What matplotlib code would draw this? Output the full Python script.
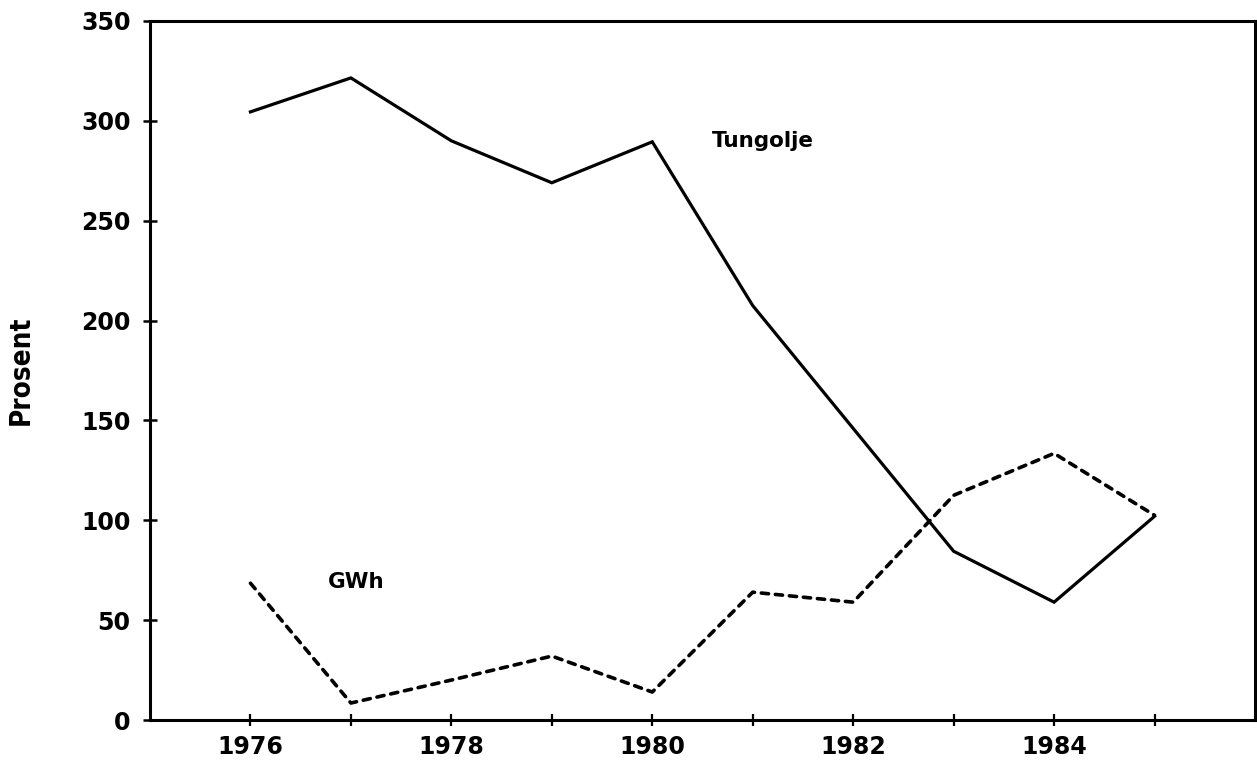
import matplotlib
matplotlib.use("Agg")
import matplotlib.pyplot as plt
from matplotlib.ticker import FixedLocator

years = [1976, 1977, 1978, 1979, 1980, 1981, 1982, 1983, 1984, 1985]
tungolje = [304.5, 321.5, 290, 269, 289.5, 207.5, 146, 84.5, 59, 102]
gwh = [68.5, 8.5, 20, 32, 14, 64, 59, 112.5, 133.5, 102.5]
xtick_labels = ["1976", "1978", "1980", "1982", "1984"]
yticks = [0, 50, 100, 150, 200, 250, 300, 350]

fig = plt.figure(figsize=(12.57, 7.61), dpi=100)
ax = fig.add_axes([150/1257, 1-720/761, 1105/1257, 699/761])

ax.plot(years, tungolje, color="black", lw=2.3, solid_joinstyle="miter")
ax.plot(years, gwh, color="black", lw=2.6, linestyle=(0, (2.0, 1.9)),
        dash_capstyle="round")

ax.set_xlim(1975, 1986)
ax.set_ylim(0, 350)

ax.xaxis.set_major_locator(FixedLocator([int(l) for l in xtick_labels]))
ax.set_xticklabels(xtick_labels)
ax.xaxis.set_minor_locator(FixedLocator([y for y in years if str(y) not in xtick_labels]))
ax.set_yticks(yticks)
ax.set_yticklabels([str(v) for v in yticks])

for s in ax.spines.values():
    s.set_linewidth(2.2)

ax.tick_params(axis="y", which="major", direction="inout", length=10, width=1.8, pad=9,
               labelsize=17)
ax.tick_params(axis="x", which="both", direction="inout", length=8, width=1.6, pad=7,
               labelsize=17)
for lab in ax.get_xticklabels() + ax.get_yticklabels():
    lab.set_fontweight("bold")

ax.set_ylabel("Prosent", fontsize=20, family=["DejaVu Sans"], fontstretch="condensed",
              fontweight="bold")
ax.yaxis.set_label_coords(-0.104, 0.5)

ax.text(1980.59, 290, "Tungolje", fontsize=15.5, fontweight="bold", va="center", ha="left")
ax.text(1976.77, 69, "GWh", fontsize=15.5, fontweight="bold", va="center", ha="left")

fig.savefig("out.png", dpi=100)
